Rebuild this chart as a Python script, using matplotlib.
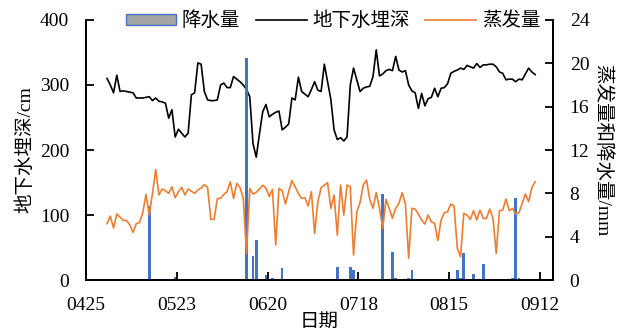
import matplotlib
matplotlib.use('Agg')
import matplotlib.pyplot as plt
import numpy as np
from matplotlib.patches import Patch
from matplotlib.lines import Line2D

plt.rcParams['font.family'] = ['Liberation Serif', 'Noto Sans CJK SC']
plt.rcParams['font.size'] = 14

# days counted from 04-25; daily series run 05-01 .. 09-10
tick_days = [0, 28, 56, 84, 112, 140]
tick_labels = ['0425', '0523', '0620', '0718', '0815', '0912']
first_day = 6

depth_cm = [
    310, 300, 288, 315, 290, 291, 290, 289, 288, 280,
    280, 280, 281, 282, 276, 280, 275, 274, 272, 249,
    262, 220, 232, 226, 220, 226, 285, 288, 334, 332,
    290, 277, 276, 276, 277, 300, 303, 296, 296, 313,
    309, 305, 300, 293, 282, 210, 189, 225, 259, 270,
    251, 255, 258, 260, 231, 235, 240, 280, 277, 312,
    290, 286, 282, 293, 305, 292, 290, 332, 305, 278,
    231, 216, 219, 214, 220, 300, 326, 308, 290, 295,
    297, 298, 313, 354, 314, 317, 322, 324, 322, 344,
    323, 320, 322, 300, 291, 288, 264, 287, 268, 279,
    281, 295, 282, 295, 296, 302, 318, 321, 323, 326,
    324, 330, 328, 326, 333, 327, 331, 331, 332, 332,
    328, 320, 318, 308, 309, 309, 305, 309, 308, 317,
    326, 320, 316,
]

evap_mm = [
    5.2, 5.9, 4.8, 6.1, 5.8, 5.5, 5.5, 5.1, 4.4, 5.2,
    5.3, 6.2, 7.9, 6.0, 8.0, 10.2, 7.85, 8.4, 8.25, 8.0,
    8.6, 7.6, 8.15, 8.55, 7.85, 8.4, 8.2, 8.0, 8.3, 8.5,
    8.8, 8.55, 5.6, 5.6, 7.5, 7.55, 7.9, 8.15, 9.07, 7.54,
    8.92, 8.55, 7.54, 2.46, 8.46, 7.94, 8.1, 8.4, 8.75, 8.5,
    7.7, 8.37, 3.23, 8.46, 8.25, 7.02, 8.15, 9.17, 8.6, 8.0,
    7.54, 7.6, 6.83, 8.15, 4.31, 7.23, 8.52, 8.77, 8.98, 6.62,
    7.85, 4.15, 8.77, 6.0, 8.77, 8.61, 2.31, 6.3, 7.14, 8.77,
    9.23, 7.45, 6.62, 8.06, 6.62, 4.77, 7.45, 6.62, 5.7, 6.62,
    7.08, 8.06, 7.02, 2.0, 6.62, 6.55, 6.09, 5.54, 5.17, 6.0,
    5.38, 5.23, 3.65, 5.54, 6.21, 6.3, 7.02, 6.83, 2.92, 2.15,
    6.15, 6.0, 5.6, 6.4, 5.54, 6.46, 5.69, 5.69, 6.55, 5.69,
    2.46, 6.4, 6.46, 7.48, 6.4, 6.62, 6.09, 6.21, 7.08, 7.94,
    7.23, 8.55, 9.07,
]

rain_day = [19, 27, 49, 51, 52, 55, 57, 60, 77, 81, 82, 91, 94, 95,
            99, 100, 114, 115, 116, 119, 122, 131, 132, 133]
rain_mm = [6.8, 0.3, 20.5, 2.2, 3.7, 0.5, 0.2, 1.1, 1.2, 1.2, 0.9, 7.9, 2.6, 0.2,
           0.2, 0.9, 0.9, 0.2, 2.5, 0.6, 1.5, 0.2, 7.6, 0.2]

blue = '#4472C4'
orange = '#ED7D31'

days = np.arange(first_day, first_day + len(depth_cm)) + 0.5

fig = plt.figure(figsize=(6.2, 3.33), dpi=100)
ax = fig.add_axes([0.1387, 0.159, 0.7532, 0.781])
ax2 = ax.twinx()

ax.plot(days, depth_cm, color='black', lw=1.2)
ax2.bar(np.array(rain_day) + 0.5, rain_mm, width=0.8, color=blue)
ax2.plot(days, evap_mm, color=orange, lw=1.2)

ax.set_xlim(0, 144)
ax.set_ylim(0, 400)
ax2.set_ylim(0, 24)
ax.set_yticks(np.arange(0, 401, 100))
ax2.set_yticks(np.arange(0, 25, 4))
ax.set_xticks(tick_days)
ax.set_xticklabels(tick_labels)

for a in (ax, ax2):
    a.spines['top'].set_visible(False)
    for s in a.spines.values():
        s.set_linewidth(1.3)
    a.tick_params(direction='in', length=6, width=1.3, pad=12)
ax.tick_params(axis='x', pad=12)

ax.set_xlabel('日期', labelpad=0)
ax.set_ylabel('地下水埋深/cm', labelpad=4)
ax2.set_ylabel('蒸发量和降水量/mm', rotation=-90, labelpad=16)

handles = [
    Patch(facecolor='#A5A5A5', edgecolor=blue, lw=1),
    Line2D([], [], color='black', lw=1.2),
    Line2D([], [], color=orange, lw=1.2),
]
fig.legend(handles, ['降水量', '地下水埋深', '蒸发量'], loc='center',
           bbox_to_anchor=(0.537, 0.937), ncol=3, frameon=False,
           handlelength=2.6, handleheight=0.5, handletextpad=0.3,
           columnspacing=0.8)

fig.savefig('out.png', dpi=100)
